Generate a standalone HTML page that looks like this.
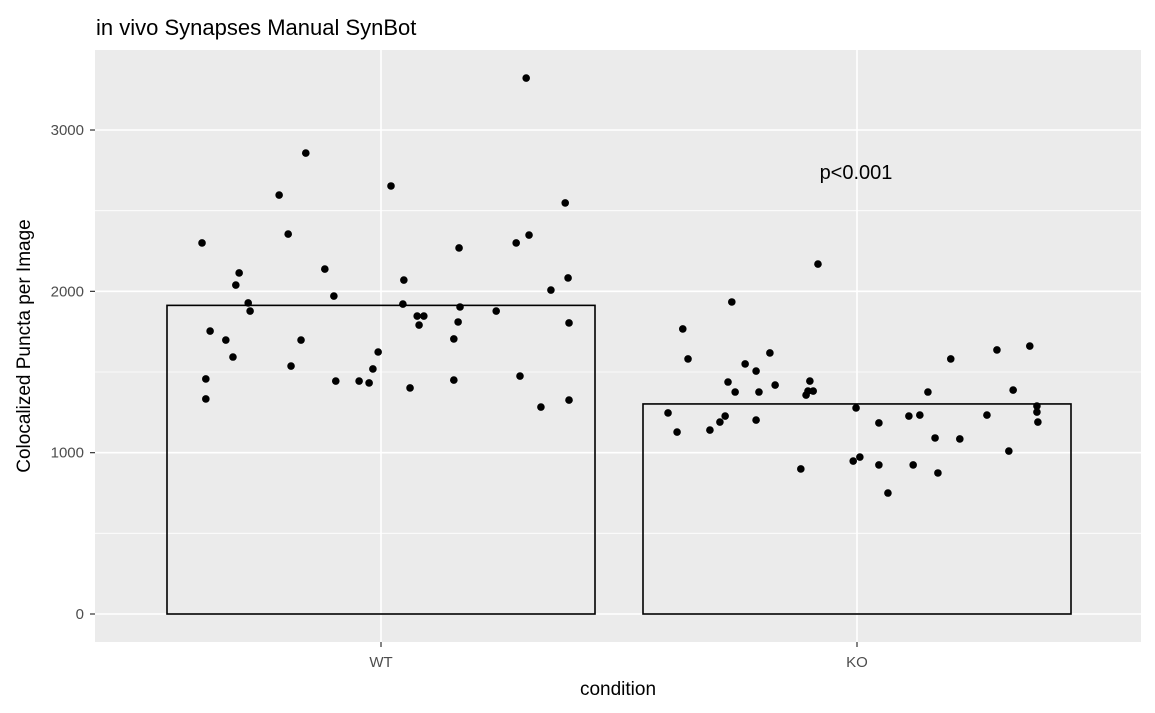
<!DOCTYPE html>
<html><head><meta charset="utf-8"><style>
body{margin:0;background:#fff;}
svg{display:block;font-family:"Liberation Sans",Arial,sans-serif;}
</style></head><body>
<svg id="chart" width="1155" height="713">
<text x="96" y="35" font-size="22" fill="#000">in vivo Synapses Manual SynBot</text>
<rect x="95" y="50" width="1046" height="592" fill="#ebebeb"/>
<g id="grid"></g>
<g id="bars"></g>
<g id="points"></g>
<g id="axes"></g>
<text x="856" y="179" font-size="20" text-anchor="middle" fill="#000">p&lt;0.001</text>
<text x="618" y="695" font-size="19" text-anchor="middle" fill="#000">condition</text>
<text transform="translate(30,346) rotate(-90)" font-size="19" text-anchor="middle" fill="#000">Colocalized Puncta per Image</text>
</svg>
<script>
const categories = ["WT","KO"];
const barValues = [1913, 1302];
const yTicks = [0,1000,2000,3000];
const yMinor = [500,1500,2500,3500];
const wtValues = [2300,1457,1333,1754,1698,1593,2039,2114,1928,1878,2597,2355,1537,1698,2857,2138,1971,1444,1444,1432,1519,1624,2653,2070,1921,1401,1847,1791,1847,1705,1450,1810,2269,1903,1878,2300,1475,3322,2349,1283,2008,2548,2083,1804,1326];
const wtJitter = [-0.376,-0.368,-0.368,-0.359,-0.326,-0.311,-0.305,-0.298,-0.279,-0.275,-0.214,-0.195,-0.189,-0.168,-0.158,-0.118,-0.099,-0.095,-0.046,-0.025,-0.017,-0.006,0.021,0.048,0.046,0.061,0.076,0.080,0.090,0.153,0.153,0.162,0.164,0.166,0.242,0.284,0.292,0.305,0.311,0.336,0.357,0.387,0.393,0.395,0.395];
const koValues = [1246,1128,1767,1581,1140,1190,1227,1438,1934,1376,1550,1506,1202,1376,1618,1419,899,1357,1382,1444,1382,2169,1277,948,973,1184,924,750,1227,924,1233,1376,1091,874,1581,1085,1233,1637,1010,1388,1661,1289,1252,1190];
const koJitter = [-0.397,-0.378,-0.366,-0.355,-0.309,-0.288,-0.277,-0.271,-0.263,-0.256,-0.235,-0.212,-0.212,-0.206,-0.183,-0.172,-0.118,-0.107,-0.103,-0.099,-0.092,-0.082,-0.002,-0.008,0.006,0.046,0.046,0.065,0.109,0.118,0.132,0.149,0.164,0.170,0.197,0.216,0.273,0.294,0.319,0.328,0.363,0.378,0.378,0.380];

const NS="http://www.w3.org/2000/svg";
const y = v => 614 - v*0.16133;
const x = i => 381 + i*476;
function mk(parent, tag, attrs){const e=document.createElementNS(NS,tag);for(const k in attrs)e.setAttribute(k,attrs[k]);document.getElementById(parent).appendChild(e);return e;}
yMinor.forEach(v=>{const e=mk("grid","line",{x1:95,x2:1141,y1:y(v),y2:y(v),stroke:"#fff","stroke-width":0.8});

});
yTicks.forEach(v=>{const e=mk("grid","line",{x1:95,x2:1141,y1:y(v),y2:y(v),stroke:"#fff","stroke-width":1.6});


const t=mk("axes","text",{x:84,y:y(v)+5,"font-size":15,"text-anchor":"end",fill:"#4d4d4d"});t.textContent=v;


const k=mk("axes","line",{x1:90,x2:95,y1:y(v),y2:y(v),stroke:"#333","stroke-width":1.2});

});
categories.forEach((c,i)=>{const g=mk("grid","line",{x1:x(i),x2:x(i),y1:50,y2:642,stroke:"#fff","stroke-width":1.6});


const b=mk("bars","rect",{x:x(i)-214,y:y(barValues[i]),width:428,height:y(0)-y(barValues[i]),fill:"none",stroke:"#000","stroke-width":1.6});


const t=mk("axes","text",{x:x(i),y:667,"font-size":15,"text-anchor":"middle",fill:"#4d4d4d"});t.textContent=c;


const k=mk("axes","line",{x1:x(i),x2:x(i),y1:642,y2:647,stroke:"#333","stroke-width":1.2});

});
[[wtValues,wtJitter,0],[koValues,koJitter,1]].forEach(([vals,jit,i])=>{vals.forEach((v,j)=>{
const p=mk("points","circle",{cx:x(i+jit[j]),cy:y(v),r:3.8,fill:"#000"});

});});
</script>
</body></html>
